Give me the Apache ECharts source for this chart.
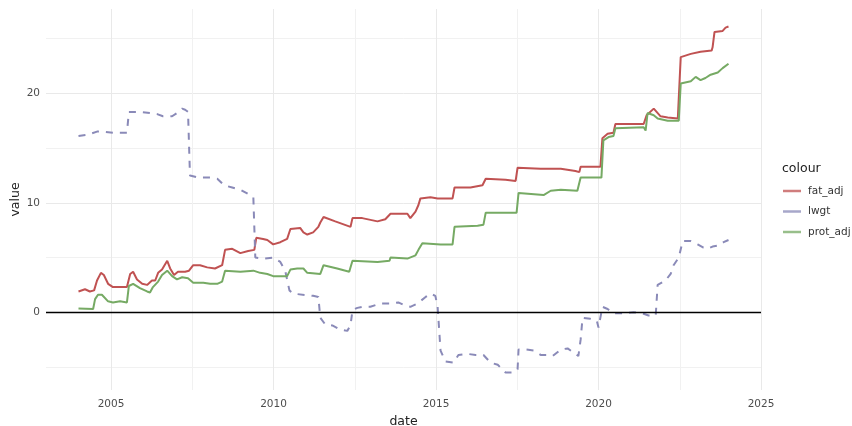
<!DOCTYPE html>
<html>
<head>
<meta charset="utf-8">
<script src="https://cdn.jsdelivr.net/npm/echarts@6/dist/echarts.min.js"></script>
<style>
html,body{margin:0;padding:0;background:#fff;}
#main{width:852px;height:426px;}
</style>
</head>
<body>
<div id="main"></div>
<script>
// ---- data (decimal years) ----
const seriesNames = ['fat_adj', 'lwgt', 'prot_adj'];

const fatDates = [2004.00,2004.20,2004.35,2004.48,2004.57,2004.69,2004.78,2004.91,2005.06,2005.49,2005.59,2005.68,2005.80,2005.96,2006.11,2006.26,2006.36,2006.45,2006.57,2006.73,2006.82,2006.94,2007.06,2007.28,2007.40,2007.53,2007.74,2007.96,2008.20,2008.42,2008.51,2008.73,2008.98,2009.22,2009.41,2009.47,2009.68,2009.81,2009.99,2010.21,2010.42,2010.52,2010.82,2010.92,2011.04,2011.22,2011.38,2011.44,2011.54,2011.90,2012.37,2012.43,2012.73,2013.20,2013.44,2013.60,2014.12,2014.21,2014.37,2014.46,2014.52,2014.83,2015.05,2015.51,2015.57,2016.06,2016.43,2016.53,2017.14,2017.45,2017.51,2018.22,2018.84,2019.29,2019.41,2019.45,2020.06,2020.12,2020.28,2020.46,2020.52,2021.39,2021.48,2021.70,2021.91,2022.13,2022.44,2022.53,2022.84,2023.14,2023.48,2023.51,2023.57,2023.82,2023.91,2024.00];
const fatValues = [1.9,2.1,1.9,2.0,2.9,3.6,3.4,2.6,2.3,2.3,3.5,3.7,3.0,2.6,2.5,2.9,2.9,3.6,3.9,4.7,4.0,3.4,3.7,3.7,3.8,4.3,4.3,4.1,4.0,4.3,5.7,5.8,5.4,5.6,5.7,6.8,6.7,6.6,6.2,6.4,6.7,7.6,7.7,7.3,7.1,7.3,7.8,8.2,8.7,8.3,7.8,8.6,8.6,8.3,8.5,9.0,9.0,8.6,9.2,9.8,10.4,10.5,10.4,10.4,11.4,11.4,11.6,12.2,12.1,12.0,13.2,13.1,13.1,12.9,12.8,13.3,13.3,15.9,16.3,16.4,17.2,17.2,18.0,18.6,17.9,17.8,17.7,23.3,23.6,23.8,23.9,24.2,25.6,25.7,26.0,26.1];

const lwgtDates = [2004.00,2004.26,2004.57,2004.75,2005.06,2005.49,2005.55,2005.89,2006.20,2006.42,2006.60,2006.88,2007.03,2007.19,2007.28,2007.37,2007.43,2007.68,2008.05,2008.27,2008.48,2008.73,2008.98,2009.22,2009.38,2009.44,2009.68,2009.99,2010.21,2010.36,2010.49,2010.61,2011.22,2011.38,2011.44,2011.59,2011.81,2012.06,2012.27,2012.37,2012.43,2012.58,2012.73,2012.98,2013.29,2013.60,2013.84,2014.06,2014.21,2014.43,2014.68,2014.83,2014.98,2015.05,2015.14,2015.29,2015.54,2015.69,2015.97,2016.22,2016.46,2016.68,2016.90,2017.14,2017.39,2017.51,2017.54,2017.76,2018.01,2018.22,2018.47,2018.59,2018.84,2019.05,2019.29,2019.38,2019.45,2019.51,2019.75,2019.95,2020.00,2020.12,2020.28,2020.46,2020.77,2021.08,2021.36,2021.54,2021.76,2021.82,2022.06,2022.22,2022.31,2022.47,2022.59,2022.84,2023.05,2023.23,2023.36,2023.51,2023.70,2023.85,2024.00];
const lwgtValues = [16.1,16.2,16.5,16.5,16.4,16.4,18.3,18.3,18.2,18.1,17.9,17.9,18.2,18.6,18.5,18.3,12.5,12.3,12.3,12.2,11.6,11.4,11.2,10.8,10.5,5.0,4.9,5.0,4.6,3.8,2.0,1.7,1.5,1.4,-0.5,-1.1,-1.2,-1.6,-1.7,-1.2,0.2,0.4,0.5,0.5,0.8,0.8,0.9,0.6,0.5,0.8,1.4,1.7,1.5,0.5,-3.5,-4.5,-4.6,-3.9,-3.8,-3.9,-3.9,-4.6,-4.8,-5.5,-5.5,-5.2,-3.4,-3.4,-3.5,-3.9,-3.9,-4.0,-3.4,-3.3,-3.8,-4.0,-2.5,-0.5,-0.6,-0.8,-1.4,0.5,0.3,-0.1,-0.1,0.0,-0.1,-0.3,-0.3,2.5,2.9,3.5,4.3,5.0,6.5,6.5,6.2,5.9,5.8,6.0,6.1,6.4,6.6];

const protDates = [2004.00,2004.45,2004.51,2004.60,2004.72,2004.91,2005.06,2005.28,2005.49,2005.55,2005.68,2005.89,2006.11,2006.20,2006.29,2006.45,2006.57,2006.73,2006.88,2007.03,2007.19,2007.37,2007.53,2007.84,2008.05,2008.27,2008.42,2008.51,2008.98,2009.38,2009.59,2009.81,2009.99,2010.42,2010.52,2010.73,2010.92,2011.04,2011.44,2011.54,2011.96,2012.33,2012.43,2013.20,2013.57,2013.60,2014.12,2014.37,2014.46,2014.58,2015.14,2015.51,2015.57,2016.28,2016.46,2016.53,2017.48,2017.54,2018.31,2018.53,2018.84,2019.35,2019.41,2019.45,2020.09,2020.15,2020.31,2020.46,2020.52,2021.39,2021.45,2021.51,2021.70,2021.82,2022.13,2022.47,2022.53,2022.84,2022.99,2023.14,2023.29,2023.45,2023.67,2023.82,2024.00];
const protValues = [0.35,0.3,1.2,1.6,1.6,1.0,0.9,1.0,0.9,2.4,2.6,2.2,1.9,1.8,2.3,2.8,3.4,3.8,3.3,3.0,3.2,3.1,2.7,2.7,2.6,2.6,2.8,3.8,3.7,3.8,3.6,3.5,3.3,3.3,3.9,4.0,4.0,3.6,3.5,4.3,4.0,3.7,4.7,4.6,4.7,5.0,4.9,5.2,5.7,6.3,6.2,6.2,7.8,7.9,8.0,9.1,9.1,10.9,10.7,11.1,11.2,11.1,11.1,12.3,12.3,15.7,16.0,16.1,16.8,16.9,16.6,18.2,18.0,17.7,17.5,17.5,20.9,21.1,21.5,21.2,21.4,21.7,21.9,22.3,22.7];

const xTickValues = [2005, 2007.5, 2010, 2012.5, 2015, 2017.5, 2020, 2022.5, 2025];
const xLabelValues = [2005, 2010, 2015, 2020, 2025];
const yTickValues = [-5, 0, 5, 10, 15, 20, 25];
const yLabelValues = [0, 10, 20];
const zeroLine = 0;

const colors = ['#c05252', '#8a8ab8', '#76aa64'];
const FONT = 'DejaVu Sans';

function pairs(d, v){ return d.map((x,i)=>[x, v[i]]); }

const chart = echarts.init(document.getElementById('main'), null, {renderer:'canvas'});
chart.setOption({
  animation: false,
  backgroundColor: '#ffffff',
  title: {
    text: 'colour', left: 782, top: 162, padding: 0,
    textStyle: {fontFamily: FONT, fontSize: 12.5, fontWeight: 'normal', color: '#222'}
  },
  legend: {
    orient: 'vertical', left: 783, top: 184, padding: 0,
    icon: 'rect', itemWidth: 18, itemHeight: 2.5, itemGap: 6.5,
    data: seriesNames,
    itemStyle: {opacity: 0.75},
    textStyle: {fontFamily: FONT, fontSize: 10.5, color: '#333', lineHeight: 14, padding: [0,0,0,2]}
  },
  grid: {left: 46, right: 91, top: 9, bottom: 36, containLabel: false, outerBoundsMode: 'none'},
  xAxis: {
    type: 'value', min: 2003, max: 2025,
    name: 'date', nameLocation: 'middle', nameGap: 23,
    nameTextStyle: {fontFamily: FONT, fontSize: 12.5, color: '#222'},
    axisLine: {show: false},
    axisTick: {show: false, customValues: xTickValues},
    axisLabel: {customValues: xLabelValues, formatter: v => String(v), fontFamily: FONT, fontSize: 10.5, color: '#4d4d4d', margin: 9},
    splitLine: {show: true, lineStyle: {color: ['#e9e9e9','#f1f1f1'], width: 1}}
  },
  yAxis: {
    type: 'value', min: -7.1, max: 27.7,
    name: 'value', nameLocation: 'middle', nameGap: 24, nameRotate: 90,
    nameMoveOverlap: false,
    nameTextStyle: {fontFamily: FONT, fontSize: 12.5, color: '#222'},
    axisLine: {show: false},
    axisTick: {show: false, customValues: yTickValues},
    axisLabel: {customValues: yLabelValues, formatter: v => String(v), fontFamily: FONT, fontSize: 10.5, color: '#4d4d4d', margin: 6},
    splitLine: {show: true, lineStyle: {color: ['#f1f1f1','#e9e9e9'], width: 1}}
  },
  series: [
    {
      name: seriesNames[0], type: 'line', data: pairs(fatDates, fatValues),
      color: colors[0], showSymbol: false, symbol: 'none',
      lineStyle: {width: 2, color: colors[0]},
      markLine: {
        silent: true, symbol: ['none','none'], label: {show: false},
        lineStyle: {color: '#000', width: 1.3, type: 'solid'},
        data: [{yAxis: zeroLine}]
      }
    },
    {
      name: seriesNames[1], type: 'line', data: pairs(lwgtDates, lwgtValues),
      color: colors[1], showSymbol: false, symbol: 'none',
      lineStyle: {width: 2, color: colors[1], type: [7, 7]}
    },
    {
      name: seriesNames[2], type: 'line', data: pairs(protDates, protValues),
      color: colors[2], showSymbol: false, symbol: 'none',
      lineStyle: {width: 2, color: colors[2]}
    }
  ]
});
</script>
</body>
</html>
